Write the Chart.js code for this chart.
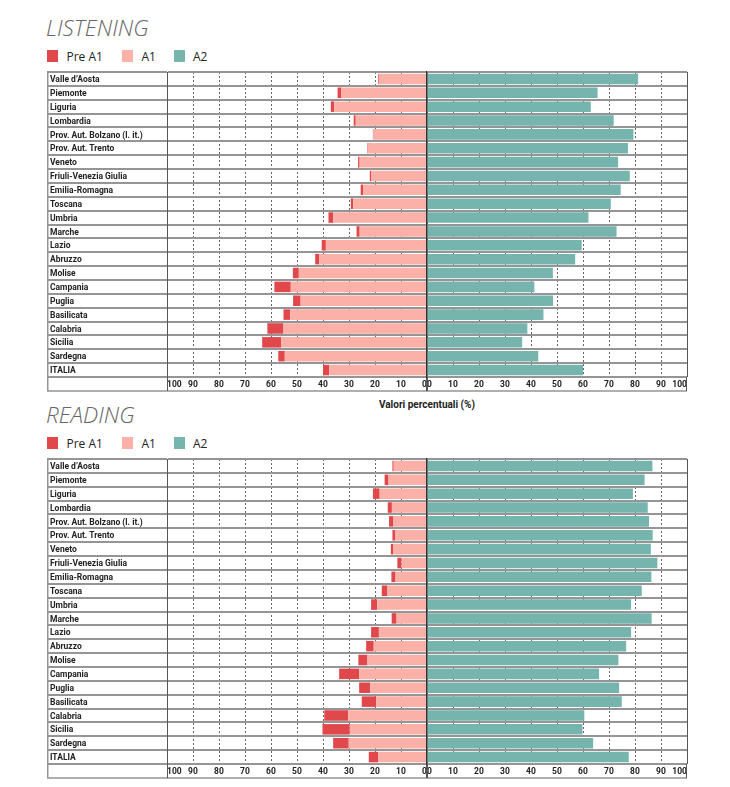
<!DOCTYPE html>
<html><head><meta charset="utf-8">
<script src="https://cdn.jsdelivr.net/npm/chart.js@4/dist/chart.umd.min.js"></script>
<style>
body{margin:0;background:#fff;width:730px;height:787px;position:relative;overflow:hidden;font-family:'Open Sans',sans-serif;}
.title{position:absolute;left:46px;font-size:22.5px;font-style:italic;font-weight:300;color:#666;line-height:1;white-space:nowrap;}
.sw{position:absolute;width:11px;height:12px;}
.lt{position:absolute;font-size:12px;line-height:12px;color:#222;white-space:nowrap;}
.axt{position:absolute;left:327px;width:200px;text-align:center;font:bold 10px Roboto,sans-serif;color:#222;}
canvas{position:absolute;}
</style>
</head><body>
<div class="title" style="top:16.8px">LISTENING</div>
<div class="sw" style="left:47px;top:50px;background:#e0484c"></div><div class="lt" style="left:66.5px;top:51.3px">Pre A1</div>
<div class="sw" style="left:122px;top:50px;background:#fbb1a8"></div><div class="lt" style="left:141.5px;top:51.3px">A1</div>
<div class="sw" style="left:174px;top:50px;background:#75b5ae"></div><div class="lt" style="left:193px;top:51.3px">A2</div>
<canvas id="lL" width="386" height="325" style="left:44px;top:70px"></canvas>
<canvas id="lR" width="266" height="325" style="left:424px;top:70px"></canvas>
<div class="axt" style="top:399px">Valori percentuali (%)</div>

<div class="title" style="top:403.8px">READING</div>
<div class="sw" style="left:47px;top:437px;background:#e0484c"></div><div class="lt" style="left:66.5px;top:438.3px">Pre A1</div>
<div class="sw" style="left:122px;top:437px;background:#fbb1a8"></div><div class="lt" style="left:141.5px;top:438.3px">A1</div>
<div class="sw" style="left:174px;top:437px;background:#75b5ae"></div><div class="lt" style="left:193px;top:438.3px">A2</div>
<canvas id="rL" width="386" height="325" style="left:44px;top:457px"></canvas>
<canvas id="rR" width="266" height="325" style="left:424px;top:457px"></canvas>

<script>
const regions = ['Valle d’Aosta','Piemonte','Liguria','Lombardia','Prov. Aut. Bolzano (l. it.)','Prov. Aut. Trento','Veneto','Friuli-Venezia Giulia','Emilia-Romagna','Toscana','Umbria','Marche','Lazio','Abruzzo','Molise','Campania','Puglia','Basilicata','Calabria','Sicilia','Sardegna','ITALIA'];

const listeningPreA1 = [0.3,1.5,1.3,0.8,0.2,0.2,0.6,0.6,0.9,0.9,1.8,1.2,1.6,1.5,2.3,6.3,2.9,2.6,6.2,7.3,2.5,2.4];
const listeningA1    = [18.5,32.9,35.7,27.4,20.6,22.7,25.9,21.4,24.6,28.4,36.1,25.9,38.9,41.5,49.3,52.4,48.6,52.6,55.2,56.1,54.7,37.6];
const listeningA2    = [81.2,65.6,63.0,71.8,79.4,77.3,73.5,78.0,74.5,70.7,62.1,72.9,59.5,57.0,48.4,41.3,48.5,44.8,38.6,36.6,42.8,60.0];

const readingPreA1 = [0.5,1.5,2.6,1.6,1.7,1.0,1.0,1.6,1.6,2.2,2.3,1.9,3.0,2.9,3.5,7.7,4.3,5.6,9.2,10.5,6.0,3.7];
const readingA1    = [12.8,14.8,18.2,13.5,12.9,12.3,12.9,9.8,12.1,15.2,19.2,11.7,18.5,20.5,22.9,26.1,21.8,19.5,30.3,29.7,30.1,18.7];
const readingA2    = [86.7,83.7,79.2,84.9,85.4,86.8,86.1,88.6,86.3,82.6,78.5,86.4,78.5,76.6,73.6,66.2,73.9,74.9,60.5,59.8,63.9,77.6];

const C_PRE = '#e0484c', C_A1 = '#fbb1a8', C_A2 = '#75b5ae';
const LBL_FONT = "Roboto,sans-serif";
const SEP = '#959595';
const LABEL_COL = 120;

const frame = {
  id:'frame',
  afterDraw(chart, args, opts){
    const {ctx, chartArea:a, scales:{x}} = chart;
    ctx.save();
    ctx.strokeStyle = SEP; ctx.lineWidth = 1.5;
    const bot = Math.round(x.bottom) - 1;
    const left0 = opts.labelCol ? a.left - LABEL_COL : a.left;
    ctx.beginPath();
    if (opts.labelCol){ ctx.moveTo(left0 + 0.75, a.top - 1); ctx.lineTo(left0 + 0.75, bot); }
    ctx.moveTo(left0, bot); ctx.lineTo(a.right, bot);
    ctx.stroke();
    ctx.strokeStyle = '#555'; ctx.lineWidth = 1;
    ctx.beginPath();
    ctx.moveTo(Math.round(a.left)+0.5, a.bottom); ctx.lineTo(Math.round(a.left)+0.5, bot);
    ctx.moveTo(Math.round(a.right)-0.5, a.bottom); ctx.lineTo(Math.round(a.right)-0.5, bot);
    ctx.stroke();
    ctx.restore();
  }
};

const isEdge = ctx => ctx.tick && (ctx.tick.value === 0 || Math.abs(ctx.tick.value) === 100);

function xScale(min, max){
  return {
    stacked:true, min, max,
    ticks:{stepSize:10, autoSkip:false, maxRotation:0, minRotation:0, align:'inner', padding:3,
           font:{family:LBL_FONT, size:8.5, weight:'bold'}, color:'#222',
           callback:v => String(Math.abs(v))},
    grid:{drawTicks:false, lineWidth:1, color:ctx => isEdge(ctx) ? '#555' : '#666'},
    border:{display:false, dash:ctx => isEdge(ctx) ? [] : [2,2]},
    afterFit:s => { s.height = 15; }
  };
}

function yFit(w){ return s => { s.width = w; s.paddingTop = 0; s.paddingBottom = 0; }; }

function makeLeft(id, pre, a1){
  new Chart(document.getElementById(id), {
    type:'bar',
    data:{labels:regions, datasets:[
      {label:'A1', data:a1.map(v => -v), backgroundColor:C_A1},
      {label:'Pre A1', data:pre.map(v => -v), backgroundColor:C_PRE}
    ]},
    options:{
      indexAxis:'y', responsive:false, animation:false,
      layout:{padding:{left:6, right:3, top:2, bottom:3}},
      plugins:{legend:{display:false}, tooltip:{enabled:false}, frame:{labelCol:true}},
      datasets:{bar:{barPercentage:0.76, categoryPercentage:1}},
      scales:{
        x:xScale(-100, 0),
        y:{stacked:true,
           ticks:{crossAlign:'far', autoSkip:false, labelOffset:1, font:{family:LBL_FONT, size:8.5, weight:'bold'}, color:'#222'},
           grid:{color:SEP, lineWidth:2, tickLength:LABEL_COL, tickColor:SEP, tickWidth:2, offset:true},
           border:{display:true, color:'#555', width:1},
           afterFit:yFit(117)}
      }
    },
    plugins:[frame]
  });
}

function makeRight(id, a2){
  new Chart(document.getElementById(id), {
    type:'bar',
    data:{labels:regions, datasets:[{label:'A2', data:a2, backgroundColor:C_A2}]},
    options:{
      indexAxis:'y', responsive:false, animation:false,
      layout:{padding:{left:3, right:3, top:2, bottom:3}},
      plugins:{legend:{display:false}, tooltip:{enabled:false}, frame:{labelCol:false}},
      datasets:{bar:{barPercentage:0.76, categoryPercentage:1}},
      scales:{
        x:xScale(0, 100),
        y:{stacked:true,
           ticks:{display:false},
           grid:{color:SEP, lineWidth:2, drawTicks:false, offset:true},
           border:{display:true, color:'#333', width:1.2},
           afterFit:yFit(0)}
      }
    },
    plugins:[frame]
  });
}

makeLeft('lL', listeningPreA1, listeningA1);
makeRight('lR', listeningA2);
makeLeft('rL', readingPreA1, readingA1);
makeRight('rR', readingA2);
</script>
</body></html>
